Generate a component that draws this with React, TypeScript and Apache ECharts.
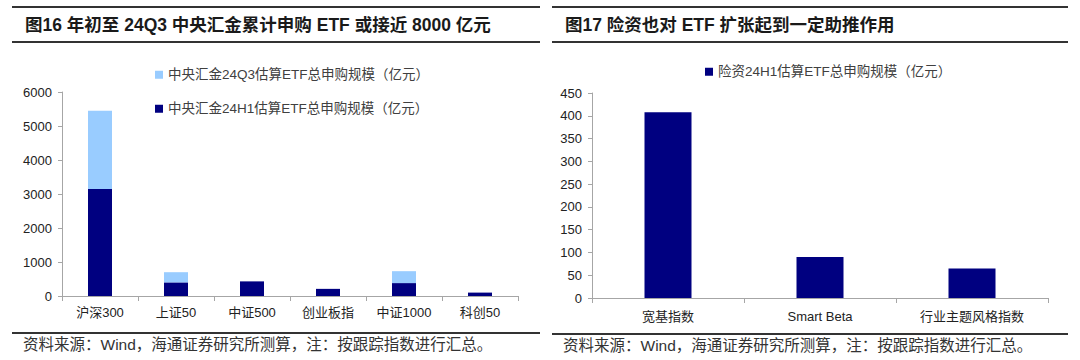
import React, { useEffect, useRef } from "react";
import * as echarts from "echarts";

// ---- Data ----
const leftCategories = ["沪深300", "上证50", "中证500", "创业板指", "中证1000", "科创50"];
const h1Values = [3150, 400, 430, 210, 380, 100]; // 中央汇金24H1估算ETF总申购规模（亿元）
const q3Totals = [5450, 700, 430, 210, 730, 100]; // 中央汇金24Q3估算ETF总申购规模（亿元）
const leftTicks = [0, 1000, 2000, 3000, 4000, 5000, 6000];

const rightCategories = ["宽基指数", "Smart Beta", "行业主题风格指数"];
const insuranceValues = [408, 90, 65]; // 险资24H1估算ETF总申购规模（亿元）
const rightTicks = [0, 50, 100, 150, 200, 250, 300, 350, 400, 450];

const leftTitle = "图16 年初至 24Q3 中央汇金累计申购 ETF 或接近 8000 亿元";
const rightTitle = "图17 险资也对 ETF 扩张起到一定助推作用";
const sourceNote = "资料来源：Wind，海通证券研究所测算，注：按跟踪指数进行汇总。";

const nameQ3 = "中央汇金24Q3估算ETF总申购规模（亿元）";
const nameH1 = "中央汇金24H1估算ETF总申购规模（亿元）";
const nameIns = "险资24H1估算ETF总申购规模（亿元）";

const DARK = "#000080";
const LIGHT = "#99CCFF";
const AXIS = "#A6A6A6";
const FONT = "'Liberation Sans', Arial, 'Noto Sans CJK SC', sans-serif";

export default function App() {
  const ref = useRef<HTMLDivElement>(null);

  useEffect(() => {
    if (!ref.current) return;
    const chart = echarts.init(ref.current, undefined, { renderer: "svg" });
    const q3Increment = q3Totals.map((t, i) => t - h1Values[i]);

    const axisCommon = {
      axisLine: { show: true, lineStyle: { color: AXIS, width: 1 } },
      axisTick: { show: true, lineStyle: { color: AXIS }, length: 4 },
      splitLine: { show: false },
    };
    const plain = (v: number) => String(v);

    const option: any = {
      animation: false,
      backgroundColor: "#fff",
      textStyle: { fontFamily: FONT },
      grid: [
        { left: 62, top: 92, width: 456, height: 204 },
        { left: 592, top: 93, width: 456, height: 205 },
      ],
      legend: [
        {
          left: 150, top: 63, itemWidth: 8, itemHeight: 8, icon: "rect",
          data: [nameQ3], textStyle: { fontSize: 13.5, color: "#404040", fontFamily: FONT },
        },
        {
          left: 150, top: 97, itemWidth: 8, itemHeight: 8, icon: "rect",
          data: [nameH1], textStyle: { fontSize: 13.5, color: "#404040", fontFamily: FONT },
        },
        {
          left: 700, top: 60, itemWidth: 8, itemHeight: 8, icon: "rect",
          data: [nameIns], textStyle: { fontSize: 13.5, color: "#404040", fontFamily: FONT },
        },
      ],
      xAxis: [
        {
          type: "category", gridIndex: 0, data: leftCategories, ...axisCommon,
          axisTick: { show: true, lineStyle: { color: AXIS }, length: 5, alignWithLabel: false },
          axisLabel: { fontSize: 13, color: "#222", margin: 10 },
        },
        {
          type: "category", gridIndex: 1, data: rightCategories, ...axisCommon,
          axisTick: { show: true, lineStyle: { color: AXIS }, length: 5, alignWithLabel: false },
          axisLabel: { fontSize: 13, color: "#222", margin: 12 },
        },
      ],
      yAxis: [
        {
          type: "value", gridIndex: 0, min: leftTicks[0], max: leftTicks[leftTicks.length - 1],
          interval: 1000, ...axisCommon,
          axisLabel: { fontSize: 13, color: "#222", margin: 10, formatter: plain },
        },
        {
          type: "value", gridIndex: 1, min: rightTicks[0], max: rightTicks[rightTicks.length - 1],
          interval: 50, ...axisCommon,
          axisLabel: { fontSize: 13, color: "#222", margin: 10, formatter: plain },
        },
      ],
      series: [
        {
          name: nameH1, type: "bar", xAxisIndex: 0, yAxisIndex: 0, stack: "a",
          data: h1Values, barWidth: 24, itemStyle: { color: DARK },
        },
        {
          name: nameQ3, type: "bar", xAxisIndex: 0, yAxisIndex: 0, stack: "a",
          data: q3Increment, barWidth: 24, itemStyle: { color: LIGHT },
        },
        {
          name: nameIns, type: "bar", xAxisIndex: 1, yAxisIndex: 1,
          data: insuranceValues, barWidth: 47, itemStyle: { color: DARK },
        },
      ],
      graphic: [
        { type: "rect", shape: { x: 12, y: 6, width: 528, height: 2 }, style: { fill: "#333" } },
        { type: "rect", shape: { x: 12, y: 41, width: 528, height: 2 }, style: { fill: "#333" } },
        { type: "rect", shape: { x: 552, y: 6, width: 516, height: 2 }, style: { fill: "#333" } },
        { type: "rect", shape: { x: 552, y: 41, width: 516, height: 2 }, style: { fill: "#333" } },
        { type: "rect", shape: { x: 12, y: 332, width: 528, height: 2 }, style: { fill: "#333" } },
        { type: "rect", shape: { x: 552, y: 333, width: 516, height: 2 }, style: { fill: "#333" } },
        {
          type: "text", x: 25, y: 25,
          style: { text: leftTitle, fontSize: 17.5, fontWeight: "bold", fill: "#1a1a1a", fontFamily: FONT, verticalAlign: "middle" },
        },
        {
          type: "text", x: 565, y: 25,
          style: { text: rightTitle, fontSize: 17.5, fontWeight: "bold", fill: "#1a1a1a", fontFamily: FONT, verticalAlign: "middle" },
        },
        {
          type: "text", x: 23, y: 344,
          style: { text: sourceNote, fontSize: 15.5, fill: "#333", fontFamily: FONT, verticalAlign: "middle" },
        },
        {
          type: "text", x: 563, y: 345,
          style: { text: sourceNote, fontSize: 15.5, fill: "#333", fontFamily: FONT, verticalAlign: "middle" },
        },
      ],
    };
    chart.setOption(option);
    return () => chart.dispose();
  }, []);

  return (
    <div
      ref={ref}
      style={{ position: "absolute", left: 0, top: 0, width: 1080, height: 360, background: "#fff" }}
    />
  );
}
